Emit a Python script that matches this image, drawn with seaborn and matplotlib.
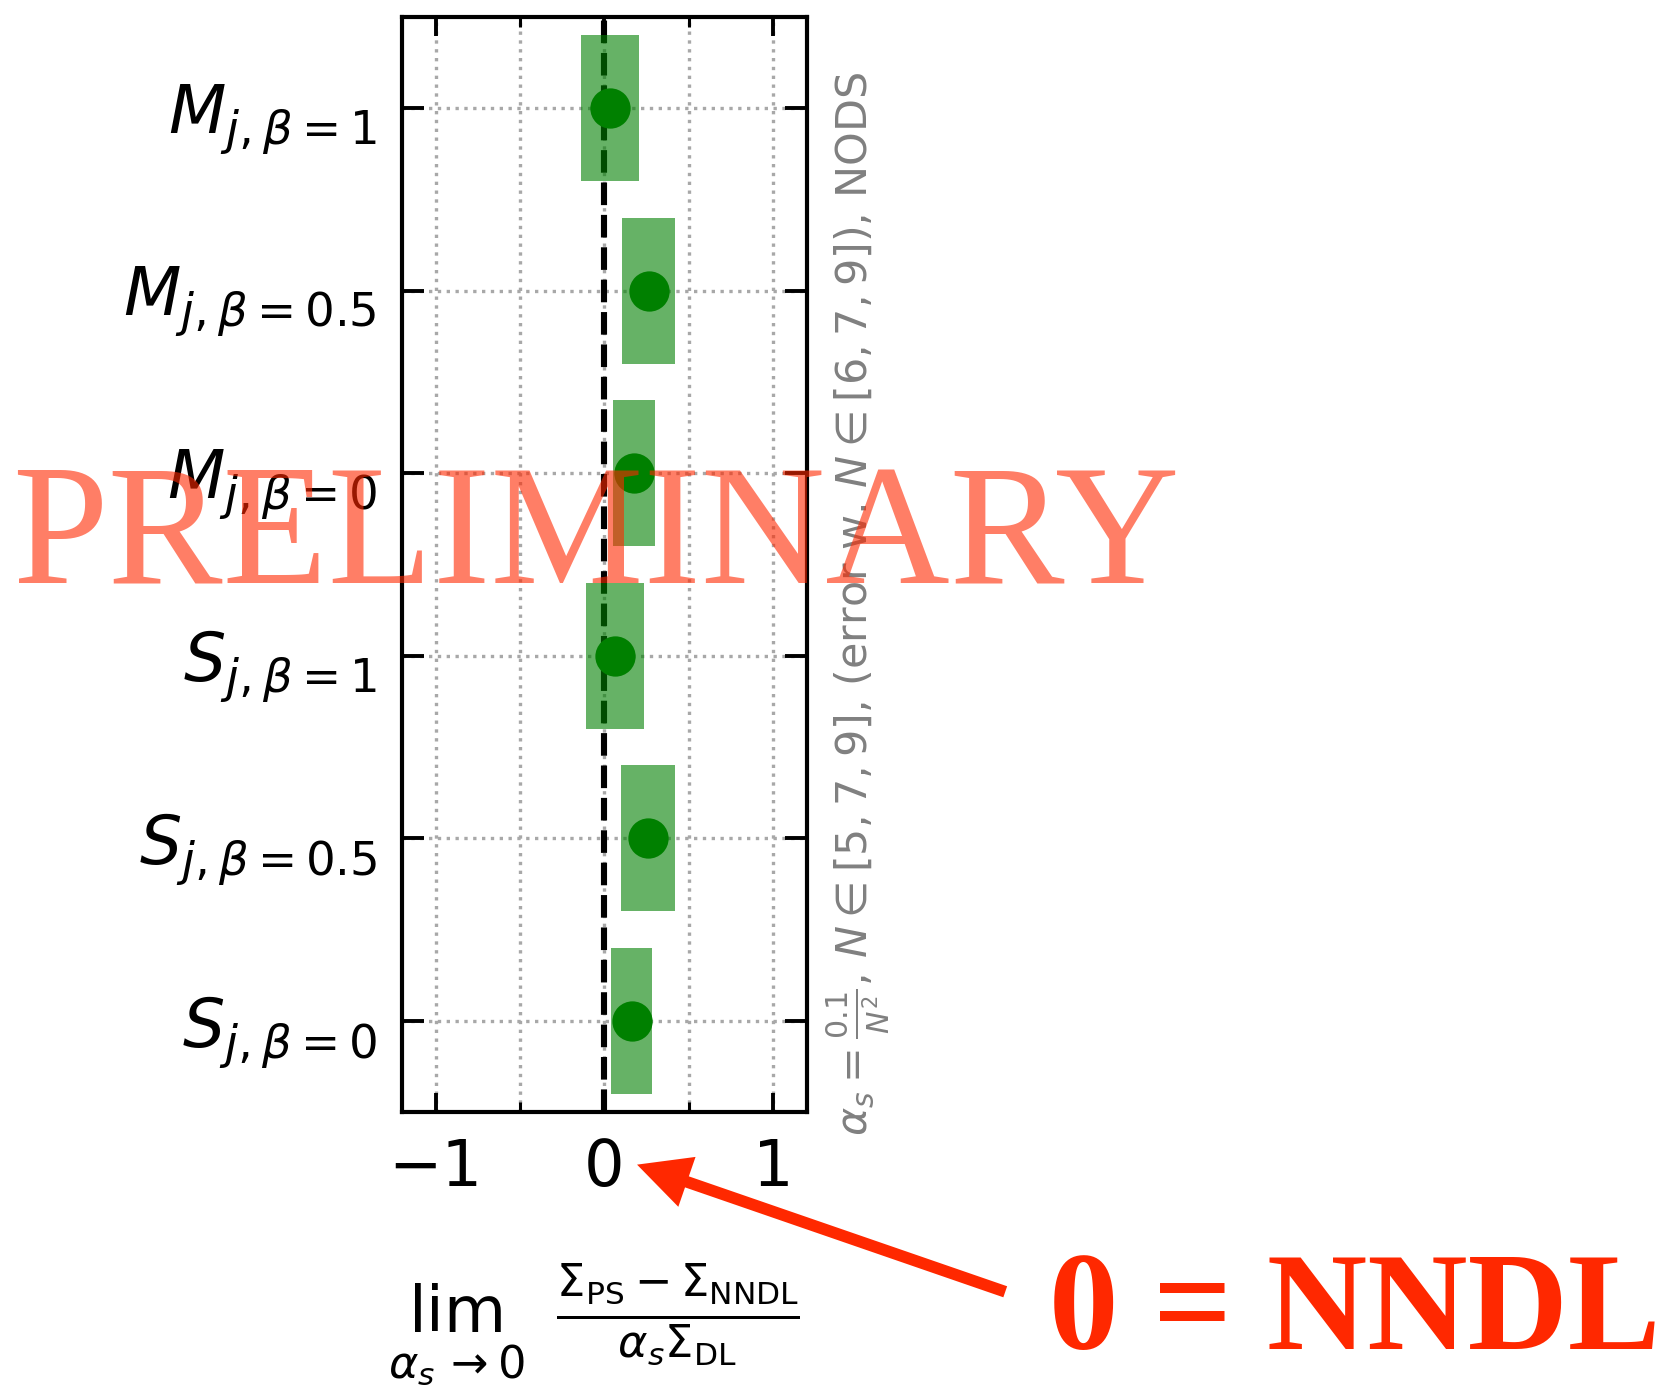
import numpy as np
import matplotlib
matplotlib.use("Agg")
import matplotlib.pyplot as plt
from matplotlib.ticker import FixedLocator
import seaborn as sns

# observables, top to bottom
labels = [
    r"$M_{j,\beta=1}$",
    r"$M_{j,\beta=0.5}$",
    r"$M_{j,\beta=0}$",
    r"$S_{j,\beta=1}$",
    r"$S_{j,\beta=0.5}$",
    r"$S_{j,\beta=0}$",
]
# extrapolated alpha_s -> 0 value and its uncertainty
values = [0.035, 0.262, 0.175, 0.063, 0.258, 0.162]
errors = [0.173, 0.157, 0.124, 0.172, 0.161, 0.122]

x_major = [-1, 0, 1]
x_minor = [-0.5, 0.5]

sns.set_theme(style="ticks", rc={
    "text.color": "black",
    "axes.labelcolor": "black",
    "xtick.color": "black",
    "ytick.color": "black",
    "axes.edgecolor": "black",
})
plt.rcParams["font.family"] = ["DejaVu Sans"]
plt.rcParams["mathtext.fontset"] = "dejavusans"

RED = "#ff2800"

fig = plt.figure(figsize=(1681 / 200, 1392 / 200), dpi=200)
ax = fig.add_axes([0.2391, 0.2011, 0.2408, 0.7867])

vals = np.asarray(values)
errs = np.asarray(errors)
pos = np.arange(len(labels))

# reference line at zero
ax.axvline(0, color="black", ls="--", lw=2.2, zorder=2)

# uncertainty bands
ax.barh(pos, 2 * errs, left=vals - errs, height=0.8, color="green",
        alpha=0.6, linewidth=0, zorder=3)

# central values
sns.stripplot(x=values, y=labels, orient="h", jitter=False, color="green",
              size=14.5, linewidth=0, ax=ax, zorder=4)

ax.set_xlim(-1.2, 1.2)
ax.set_ylim(len(labels) - 0.5, -0.5)
ax.xaxis.set_major_locator(FixedLocator(x_major))
ax.xaxis.set_minor_locator(FixedLocator(x_minor))

ax.grid(True, which="both", axis="x", color="#a8a8a8", ls=":", lw=1.2, zorder=0)
ax.grid(True, which="major", axis="y", color="#a8a8a8", ls=":", lw=1.2, zorder=0)
ax.set_axisbelow(True)

for s in ax.spines.values():
    s.set_visible(True)
    s.set_linewidth(1.5)
    s.set_color("black")

ax.tick_params(axis="both", which="both", direction="in", top=True, right=True,
               bottom=True, left=True, colors="black", labelcolor="black")
ax.tick_params(axis="x", which="major", length=7, width=1.4, labelsize=23, pad=9)
ax.tick_params(axis="x", which="minor", length=3.6, width=1.1)
ax.tick_params(axis="y", which="major", length=7.8, width=1.4, labelsize=24, pad=9)

ax.set_ylabel("")
ax.set_xlabel(r"$\lim_{\alpha_s \to 0}\enspace\frac{\Sigma_{\rm PS} - \Sigma_{\rm NNDL}}{\alpha_s\Sigma_{\rm DL}}$",
              fontsize=23, labelpad=23, color="black", x=0.474, ha="center")

# run settings
ax.text(1.045, -0.022,
        r"$\alpha_s=\frac{0.1}{N^2}$, $N\in[5,7,9]$, (error w. $N\in[6,7,9]$), NODS",
        transform=ax.transAxes, rotation=90, ha="left", va="bottom",
        fontsize=15.45, color="gray")

# pointer to the zero line
ax.annotate("", xy=(0.194, -0.048), xycoords=("data", "axes fraction"),
            xytext=(0.598, 0.072), textcoords="figure fraction",
            arrowprops=dict(facecolor=RED, edgecolor=RED, linewidth=0,
                            width=4.2, headwidth=19, headlength=19, shrink=0),
            annotation_clip=False)
fig.text(0.624, 0.031, "0 = NNDL", family="Liberation Serif", weight="bold",
         fontsize=50, color=RED, ha="left", va="baseline")

# watermark
fig.text(0.3546, 0.5805, "PRELIMINARY", family="Liberation Serif", fontsize=62,
         color=RED, alpha=0.6, ha="center", va="baseline", zorder=10)

fig.savefig("out.png", dpi=200)
